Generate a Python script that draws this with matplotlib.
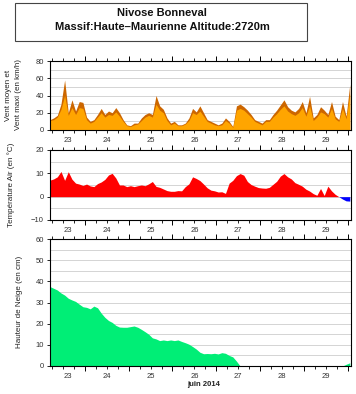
import numpy as np
import pandas as pd
import matplotlib
matplotlib.use('Agg')
import matplotlib.pyplot as plt
import matplotlib.dates as mdates
from matplotlib.ticker import MultipleLocator
from matplotlib.patches import Rectangle

plt.rcParams['font.family'] = ['Liberation Sans', 'DejaVu Sans']

# ---------------- data (2-hourly, from 2014-06-23 05:00) ----------------
start = '2014-06-23 05:00'
n_points = 83

wind_max = [12, 14, 17, 30, 58, 20, 35, 22, 33, 32, 15, 10, 12, 18, 25, 18, 22, 20, 26, 20,
            12, 6, 5, 8, 8, 14, 18, 20, 18, 40, 28, 24, 14, 8, 10, 6, 6,
            8, 14, 25, 21, 28, 20, 12, 10, 8, 6, 8, 14, 10, 4, 28, 30, 27, 23, 18, 12,
            10, 8, 12, 12, 18, 23, 29, 35, 27, 23, 21, 25, 33, 20, 39, 14, 18, 27, 23, 18,
            33, 16, 12, 33, 16, 53]

wind_mean = [11, 12, 15, 24, 40, 17, 26, 18, 26, 25, 12, 8, 10, 15, 20, 15, 18, 17, 21, 16,
             10, 5, 4, 6, 7, 11, 15, 17, 15, 30, 23, 20, 11, 6, 8, 5, 5,
             7, 11, 20, 18, 22, 16, 10, 8, 6, 5, 6, 11, 8, 3, 23, 25, 23, 19, 15, 10,
             8, 6, 10, 10, 15, 19, 24, 28, 22, 19, 17, 20, 26, 16, 28, 11, 15, 21, 19, 15,
             25, 13, 10, 25, 13, 42]

temp = [7.1, 7.6, 8.5, 10.8, 7.0, 10.7, 7.5, 5.8, 5.4, 4.8, 5.4, 4.6, 4.3, 5.6, 6.3,
        7.4, 9.3, 10.0, 8.0, 5.0, 5.0, 4.3, 4.7, 4.3, 4.7, 5.0, 4.7, 5.5, 6.5, 4.4,
        4.0, 3.3, 2.6, 2.3, 2.3, 2.6, 2.5,
        4.3, 5.5, 8.5, 7.8, 6.9, 5.4, 3.8, 2.8, 2.5, 2.0, 2.1, 1.4, 5.8, 7.0, 9.0,
        9.9, 9.2, 6.5, 5.2, 4.5, 3.9, 3.7, 3.6, 4.0, 5.3, 6.6, 8.8, 9.9, 8.5, 7.6,
        6.0, 5.3, 4.5, 3.2, 2.4, 1.3, 0.6, 3.5, 0.5, 4.5, 2.5, 1.0, 0.0, -1.0, -1.8, -1.9]

snow = [37.5, 36.7, 35.9, 34.5, 33.5, 32.0, 31.2, 30.5, 29.2, 28.0, 27.7, 27.0, 28.3,
        27.5, 25.0, 23.0, 21.5, 20.6, 19.2, 18.4, 18.3, 18.3, 18.6, 18.9, 18.3, 17.3,
        16.2, 15.0, 13.3, 12.8, 12.0, 12.3, 12.0, 12.3, 12.0, 12.3, 11.6,
        11.0, 10.3, 9.2, 8.0, 6.5, 5.8, 5.9, 5.8, 6.0, 5.7, 6.3, 6.0, 5.0, 4.3, 2.3,
        0, 0, 0, 0, 0, 0, 0, 0, 0, 0, 0, 0, 0, 0, 0, 0, 0, 0, 0, 0, 0, 0, 0, 0, 0, 0,
        0, 0, 0, 0.8, 1.5]

day_labels = ['23', '24', '25', '26', '27', '28', '29']
title_lines = ['Nivose Bonneval', 'Massif:Haute\u2013Maurienne Altitude:2720m']
ylabels = ['Vent moyen et\nVent maxi (en km/h)', 'Temp\u00e9rature Air (en \u00b0C)',
           'Hauteur de Neige (en cm)']
xlabel = 'juin 2014'

times = pd.date_range(start, periods=n_points, freq='2h')
temp = np.array(temp)
xmin = pd.Timestamp('2014-06-23 05:00')
xmax = pd.Timestamp('2014-06-30 01:40')

# ---------------- figure ----------------
W, H = 356, 394
fig = plt.figure(figsize=(W / 100, H / 100), dpi=100)

def axes_px(left, top, right, bottom):
    return fig.add_axes([left / W, 1 - bottom / H, (right - left) / W, (bottom - top) / H])

ax1 = axes_px(50, 61, 351, 130)
ax2 = axes_px(50, 150, 351, 220)
ax3 = axes_px(50, 239, 351, 366)

ax1.fill_between(times, 0, wind_max, color='#CC6600', lw=0)
ax1.fill_between(times, 0, wind_mean, color='#FFA500', lw=0)
ax2.fill_between(times, 0, temp, where=temp >= 0, interpolate=True, color='#FF0000', lw=0)
ax2.fill_between(times, 0, temp, where=temp <= 0, interpolate=True, color='#0000FF', lw=0)
ax3.fill_between(times, 0, snow, color='#00EE76', lw=0)

settings = [
    (ax1, (0, 80), [0, 20, 40, 60, 80], 10),
    (ax2, (-10, 20), [-10, 0, 10, 20], 5),
    (ax3, (0, 60), [0, 10, 20, 30, 40, 50, 60], 5),
]

days = pd.date_range('2014-06-23', periods=7, freq='D')
for ax, ylim, yt, grid_step in settings:
    ax.set_xlim(xmin, xmax)
    ax.set_ylim(*ylim)
    ax.set_yticks(yt)
    ax.yaxis.set_minor_locator(MultipleLocator(grid_step))
    ax.grid(axis='y', which='both', color='#D4D4D4', lw=0.7)
    ax.set_axisbelow(True)
    ax.xaxis.set_major_locator(mdates.DayLocator())
    ax.xaxis.set_minor_locator(mdates.HourLocator(byhour=[6, 12, 18]))
    ax.tick_params(axis='x', which='major', length=3.5, width=0.7, direction='out',
                   top=True, bottom=True, labelbottom=False)
    ax.tick_params(axis='x', which='minor', length=2, width=0.6, direction='out',
                   top=True, bottom=True)
    ax.tick_params(axis='y', which='major', length=2.5, width=0.6, labelsize=5.5, pad=2,
                   colors='black', labelcolor='#333333')
    ax.tick_params(axis='y', which='minor', length=0)
    for s in ax.spines.values():
        s.set_linewidth(0.8)
        s.set_color('black')
    # day labels centred on the visible part of each day
    for d, lab in zip(days, day_labels):
        a = max(d, xmin)
        b = min(d + pd.Timedelta(days=1), xmax)
        c = a + (b - a) / 2
        ax.annotate(lab, xy=(mdates.date2num(c), 0), xycoords=('data', 'axes fraction'),
                    xytext=(0, -5), textcoords='offset points', ha='center', va='top',
                    fontsize=5.5, color='#333333')

# y labels
fig.text(13.5 / W, 1 - 95 / H, ylabels[0], rotation=90, ha='center', va='center',
         fontsize=5.8, linespacing=1.6, color='#222222')
fig.text(11 / W, 1 - 185 / H, ylabels[1], rotation=90, ha='center', va='center',
         fontsize=5.8, color='#222222')
fig.text(20 / W, 1 - 302 / H, ylabels[2], rotation=90, ha='center', va='center',
         fontsize=5.8, color='#222222')

fig.text(204 / W, 1 - 385 / H, xlabel, ha='center', va='center', fontsize=5.5,
         weight='bold', color='#222222')

# title box
fig.patches.append(Rectangle((15 / W, 1 - 41 / H), 292 / W, 38 / H, transform=fig.transFigure,
                             fill=False, ec='#444444', lw=0.8))
fig.text(162 / W, 1 - 13.5 / H, title_lines[0], ha='center', va='center', fontsize=8,
         weight='bold', color='#111111')
fig.text(162 / W, 1 - 26.5 / H, title_lines[1], ha='center', va='center', fontsize=8,
         weight='bold', color='#111111')

fig.savefig('out.png', dpi=100)
